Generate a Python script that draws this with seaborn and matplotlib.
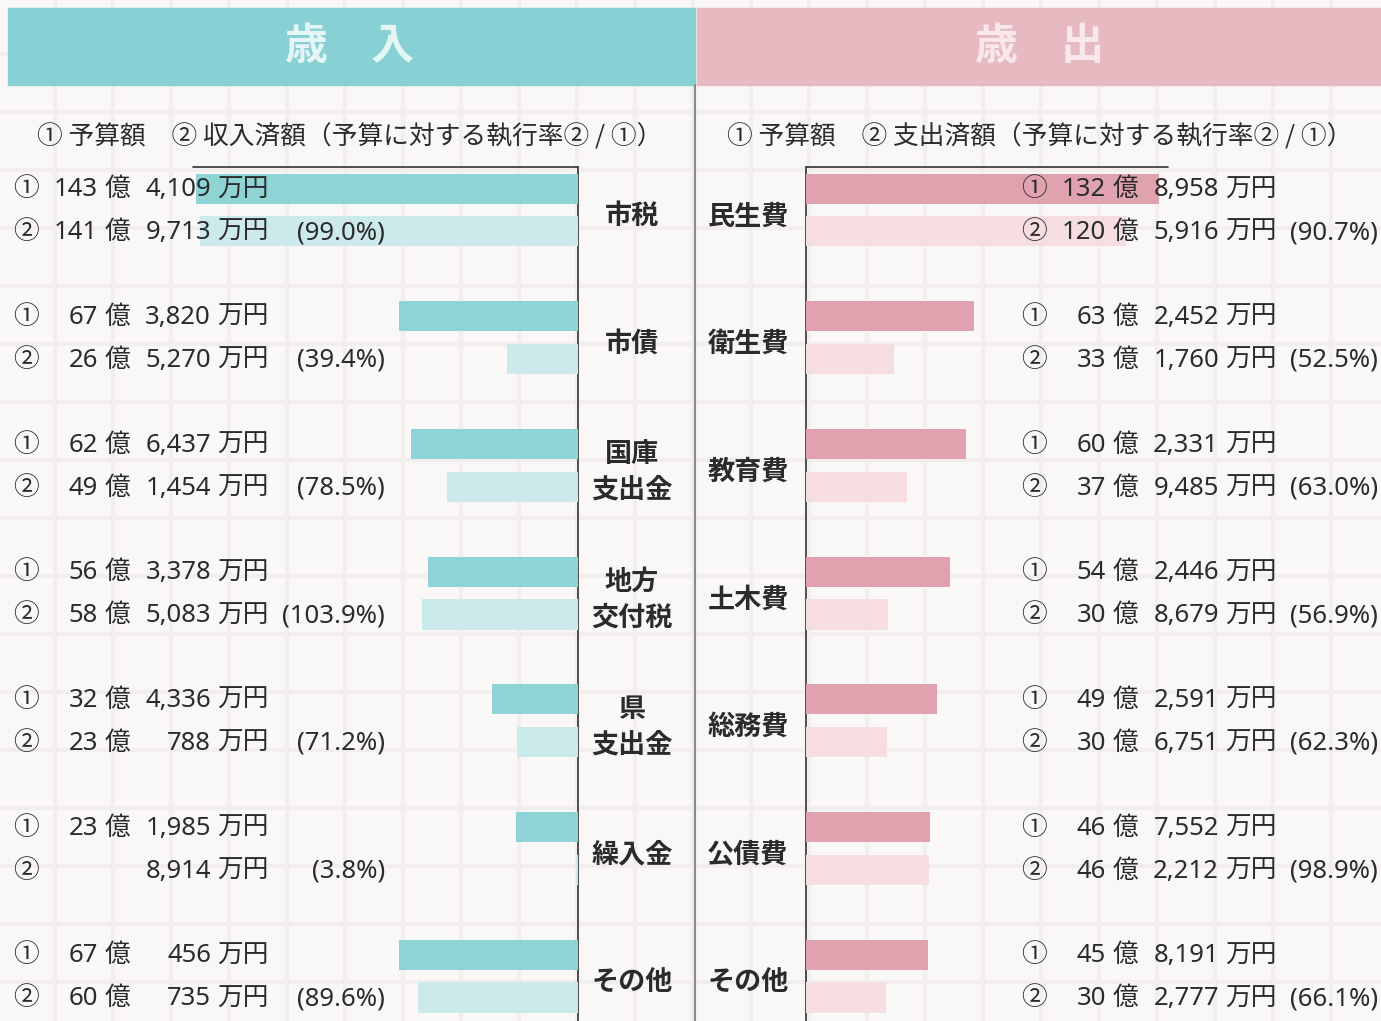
import numpy as np
import pandas as pd
import matplotlib.pyplot as plt
import matplotlib.transforms as mtransforms
from matplotlib.patches import Rectangle
import seaborn as sb

# 歳入 (revenue)
rev_cats = ['市税', '市債', '国庫\n支出金', '地方\n交付税', '県\n支出金', '繰入金', 'その他']
rev_budget_oku = [143, 67, 62, 56, 32, 23, 67]
rev_budget_man = [4109, 3820, 6437, 3378, 4336, 1985, 456]
rev_actual_oku = [141, 26, 49, 58, 23, 0, 60]
rev_actual_man = [9713, 5270, 1454, 5083, 788, 8914, 735]
rev_rate = [99.0, 39.4, 78.5, 103.9, 71.2, 3.8, 89.6]

# 歳出 (expenditure)
exp_cats = ['民生費', '衛生費', '教育費', '土木費', '総務費', '公債費', 'その他']
exp_budget_oku = [132, 63, 60, 54, 49, 46, 45]
exp_budget_man = [8958, 2452, 2331, 2446, 2591, 7552, 8191]
exp_actual_oku = [120, 33, 37, 30, 30, 46, 30]
exp_actual_man = [5916, 1760, 9485, 8679, 6751, 2212, 2777]
exp_rate = [90.7, 52.5, 63.0, 56.9, 62.3, 98.9, 66.1]

W, H = 1381, 1021
TXT = '#2b2b2b'
NUM_FONT = ['Noto Sans', 'Noto Sans CJK JP', 'DejaVu Sans']

sb.set_theme(style='white')
plt.rcParams['font.family'] = ['Noto Sans CJK JP', 'DejaVu Sans']

fig = plt.figure(figsize=(W / 100, H / 100), dpi=100)
fig.patch.set_facecolor('#f9f8f7')

# background grid, headers, frame lines (pixel coords)
bg = fig.add_axes([0, 0, 1, 1], zorder=0)
bg.set_xlim(0, W)
bg.set_ylim(H, 0)
bg.axis('off')
for gx in np.arange(55, W, 58):
    bg.axvline(gx, color='#f1eeed', lw=3, zorder=0)
for gy in np.arange(54, H, 58):
    bg.axhline(gy, color='#f1eeed', lw=3, zorder=0)

bg.add_patch(Rectangle((8, 8), 687, 77, color='#87d0d3', zorder=1))
bg.add_patch(Rectangle((697, 8), 684, 77, color='#e7bac2', zorder=1))
bg.text(350, 46, '歳　入', ha='center', va='center', fontsize=31, weight='bold', color='#e4f5f5')
bg.text(1040, 46, '歳　出', ha='center', va='center', fontsize=31, weight='bold', color='#f8e8eb')
bg.text(350, 137, '① 予算額　② 収入済額（予算に対する執行率② / ①）', ha='center', va='center',
        fontsize=18.5, color=TXT)
bg.text(1040, 137, '① 予算額　② 支出済額（予算に対する執行率② / ①）', ha='center', va='center',
        fontsize=18.5, color=TXT)

bg.plot([695, 695], [85, H], color='#8a8a8a', lw=1.5)
bg.plot([193, 578], [167, 167], color='#333333', lw=1.2)
bg.plot([578, 578], [167, H], color='#333333', lw=1.2)
bg.plot([806, 1168], [167, 167], color='#333333', lw=1.2)
bg.plot([806, 806], [167, H], color='#333333', lw=1.2)


def to_oku(oku, man):
    return [o + m / 10000 for o, m in zip(oku, man)]


def draw_side(ax, cats, b_oku, b_man, a_oku, a_man, rate, colors, invert, dx, pct_x, cat_x):
    budget = to_oku(b_oku, b_man)
    actual = to_oku(a_oku, a_man)
    df = pd.DataFrame({'cat': cats * 2,
                       'kind': ['予算額'] * len(cats) + ['済額'] * len(cats),
                       'value': budget + actual})
    sb.barplot(data=df, x='value', y='cat', hue='kind', order=cats, hue_order=['予算額', '済額'],
               orient='h', width=0.672, gap=0.3, palette=colors, saturation=1,
               errorbar=None, legend=False, linewidth=0, ax=ax)
    ax.set_ylim(6.352, -1.645)
    if invert:
        ax.set_xlim(217, 0)
    else:
        ax.set_xlim(0, 216.6)
    ax.axis('off')

    tr = mtransforms.blended_transform_factory(fig.transFigure, ax.transData)
    kw = dict(transform=tr, va='center', fontsize=18.5, color=TXT, family=NUM_FONT)
    for i in range(len(cats)):
        lines = [('①', b_oku[i], b_man[i], None), ('②', a_oku[i], a_man[i], rate[i])]
        for j, (mark, oku, man, r) in enumerate(lines):
            y = i + (j - 0.5) * 0.336 + 0.01
            ax.text((26 + dx) / W, y, mark, ha='center', **kw)
            if oku:
                ax.text((98 + dx) / W, y, str(oku), ha='right', **kw)
                ax.text((117 + dx) / W, y, '億', ha='center', **kw)
            ax.text((211 + dx) / W, y, f'{man:,}', ha='right', **kw)
            ax.text((217 + dx) / W, y, '万円', ha='left', **kw)
            if r is not None:
                ax.text(pct_x / W, y, f'({r:.1f}%)', ha='right', **kw)
        ax.text(cat_x / W, i + 0.05, cats[i], transform=tr, ha='center', va='center',
                fontsize=19.5, weight='bold', color=TXT, linespacing=1.35)


axL = fig.add_axes([0, 0, 578 / W, 1], zorder=2)
draw_side(axL, rev_cats, rev_budget_oku, rev_budget_man, rev_actual_oku, rev_actual_man, rev_rate,
          ['#8ed4d4', '#cce9eb'], True, 0, 385, 632)

axR = fig.add_axes([806 / W, 0, (W - 806) / W, 1], zorder=2)
draw_side(axR, exp_cats, exp_budget_oku, exp_budget_man, exp_actual_oku, exp_actual_man, exp_rate,
          ['#e0a2ae', '#f5dde2'], False, 1008, 1378, 748)

fig.savefig('out.png', dpi=100, facecolor=fig.get_facecolor())
